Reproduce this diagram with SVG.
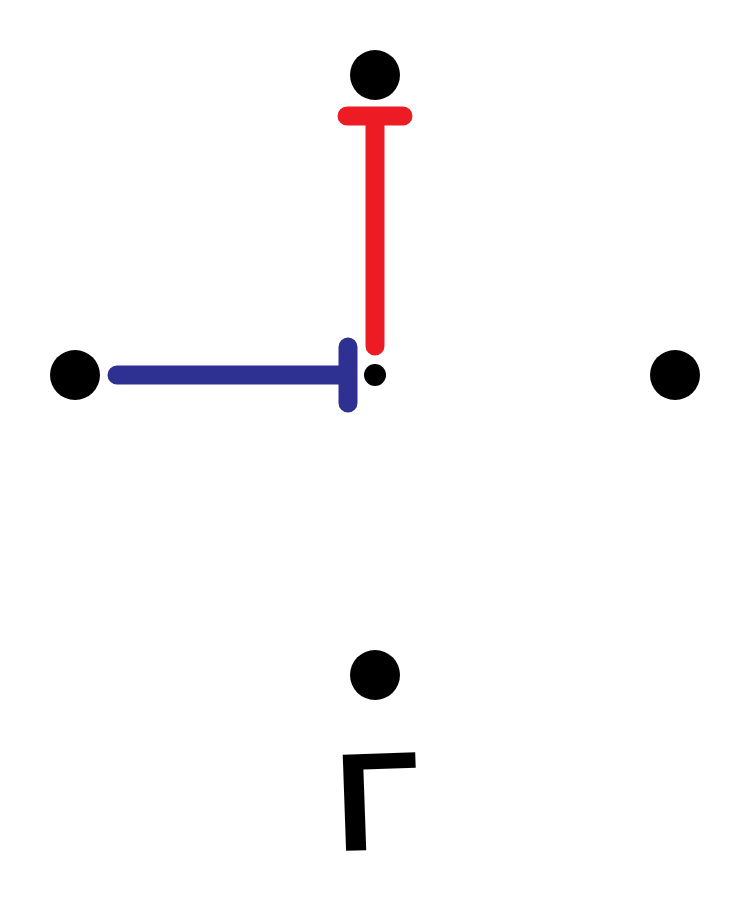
<svg xmlns="http://www.w3.org/2000/svg" width="750" height="900" viewBox="0 0 750 900">
<style>
.node{fill:#000}
.line{fill:none;stroke-width:19;stroke-linecap:round}
.red{stroke:#ED1C24}
.blue{stroke:#2E3192}
.lbl{font-family:"Liberation Sans",Arial,sans-serif;font-size:140px;font-weight:bold;fill:#000}
</style>
<rect width="750" height="900" fill="#fff"/>
<g id="node-top"><circle class="node" cx="375" cy="75" r="25"/></g>
<g id="node-left"><circle class="node" cx="75" cy="375" r="25"/></g>
<g id="node-right"><circle class="node" cx="675" cy="375" r="25"/></g>
<g id="node-bottom"><circle class="node" cx="375" cy="675" r="25"/></g>
<g id="node-center"><circle class="node" cx="375" cy="375" r="11"/></g>
<g id="connectors">
<path class="line red" d="M375,346 V116 M347,116 H403"/>
<path class="line blue" d="M117,375 H348 M348,347 V403"/>
</g>
<g id="label"><text class="lbl" x="335" y="850" transform="rotate(-2 375 800)">Γ</text></g>
</svg>
